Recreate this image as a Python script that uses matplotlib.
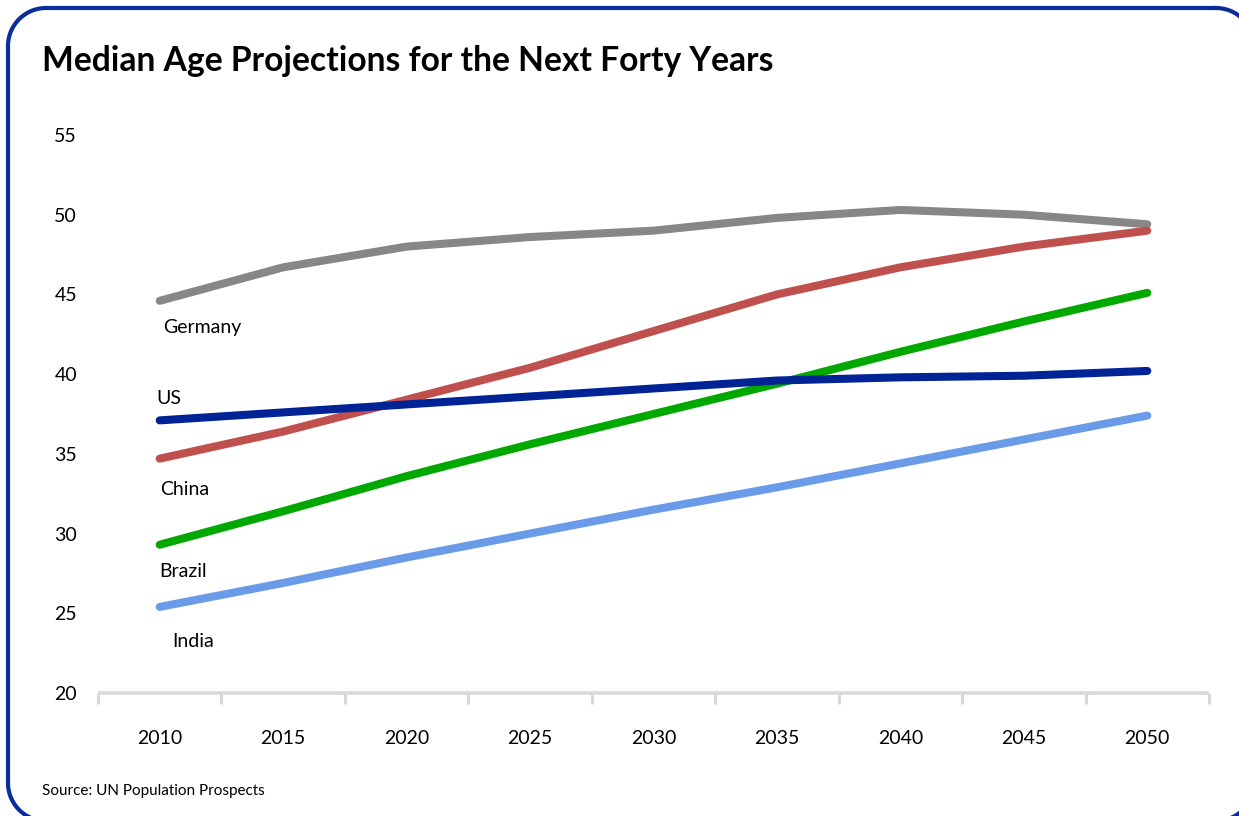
import matplotlib
matplotlib.use("Agg")
import numpy as np
import matplotlib.pyplot as plt
from matplotlib.lines import Line2D

plt.rcParams['font.family'] = ['Lato', 'DejaVu Sans']
plt.rcParams['savefig.bbox'] = 'standard'

years = ['2010', '2015', '2020', '2025', '2030', '2035', '2040', '2045', '2050']
germany = [44.6, 46.7, 48.0, 48.6, 49.0, 49.8, 50.3, 50.0, 49.4]
china = [34.7, 36.4, 38.4, 40.4, 42.7, 45.0, 46.7, 48.0, 49.0]
us = [37.1, 37.6, 38.1, 38.6, 39.1, 39.6, 39.8, 39.9, 40.2]
brazil = [29.3, 31.4, 33.6, 35.6, 37.5, 39.4, 41.4, 43.3, 45.1]
india = [25.4, 26.9, 28.5, 30.0, 31.5, 32.9, 34.4, 35.9, 37.4]

# name, values, colour, label position (x in categories, y in data units)
series = [
    ('Germany', germany, '#878787', (0.03, 42.9)),
    ('China', china, '#c0504d', (0.0, 32.75)),
    ('US', us, '#002395', (-0.03, 38.5)),
    ('Brazil', brazil, '#00a800', (0.0, 27.6)),
    ('India', india, '#6a9be8', (0.1, 23.2)),
]

W, H = 1239, 816
fig = plt.figure(figsize=(W / 100, H / 100), dpi=100)

# background layer in pixel units for the rounded frame
bg = fig.add_axes([0, 0, 1, 1], zorder=-1)
bg.set_xlim(0, W)
bg.set_ylim(H, 0)
bg.axis('off')


def rounded_outline(left, top, right, bottom, r, n=30):
    """Closed outline of a rectangle with rounded corners (pixel units, y down)."""
    pts = []
    corners = [
        (right - r, top + r, -90, 0),
        (right - r, bottom - r, 0, 90),
        (left + r, bottom - r, 90, 180),
        (left + r, top + r, 180, 270),
    ]
    for cx, cy, a0, a1 in corners:
        t = np.radians(np.linspace(a0, a1, n))
        pts.extend(zip(cx + r * np.cos(t), cy + r * np.sin(t)))
    pts.append(pts[0])
    return np.array(pts)


outline = rounded_outline(8, 8, 1254, 821, 38)
bg.add_line(Line2D(outline[:, 0], outline[:, 1], color='#0a2d9c', linewidth=3,
                   solid_joinstyle='round', clip_on=True))

ax = fig.add_axes([98 / W, 1 - 693 / H, (1209 - 98) / W, (693 - 135) / H])
ax.patch.set_alpha(0)

x = list(range(len(years)))
order = ['Germany', 'China', 'Brazil', 'India', 'US']
for name, vals, color, _ in series:
    ax.plot(x, vals, color=color, linewidth=5.8, solid_capstyle='round',
            solid_joinstyle='round', zorder=3 + order.index(name) * 0.1)

for name, vals, color, (dx, ly) in series:
    ax.text(dx, ly, name, fontsize=14, color='black', ha='left', va='center')

ax.set_xlim(-0.5, len(years) - 0.5)
ax.set_ylim(20, 55)
ax.set_yticks([20, 25, 30, 35, 40, 45, 50, 55])
ax.tick_params(axis='y', length=0, labelsize=14, pad=15)
ax.set_xticks([i - 0.5 for i in range(len(years) + 1)])
ax.set_xticklabels([])
ax.set_xticks(x, minor=True)
ax.set_xticklabels(years, minor=True)
ax.tick_params(axis='x', which='major', length=8, width=2.2, color='#d9d9d9', direction='out')
ax.tick_params(axis='x', which='minor', length=0, labelsize=14, pad=27)

for s in ['top', 'right', 'left']:
    ax.spines[s].set_visible(False)
ax.spines['bottom'].set_color('#d9d9d9')
ax.spines['bottom'].set_linewidth(2.6)
ax.spines['bottom'].set_capstyle('butt')

fig.text(42 / W, 1 - 61 / H, 'Median Age Projections for the Next Forty Years',
         fontsize=24.2, fontweight='bold', ha='left', va='center')
fig.text(42 / W, 1 - 791 / H, 'Source: UN Population Prospects',
         fontsize=11, ha='left', va='center')

fig.savefig('out.png', dpi=100, bbox_inches=None)
